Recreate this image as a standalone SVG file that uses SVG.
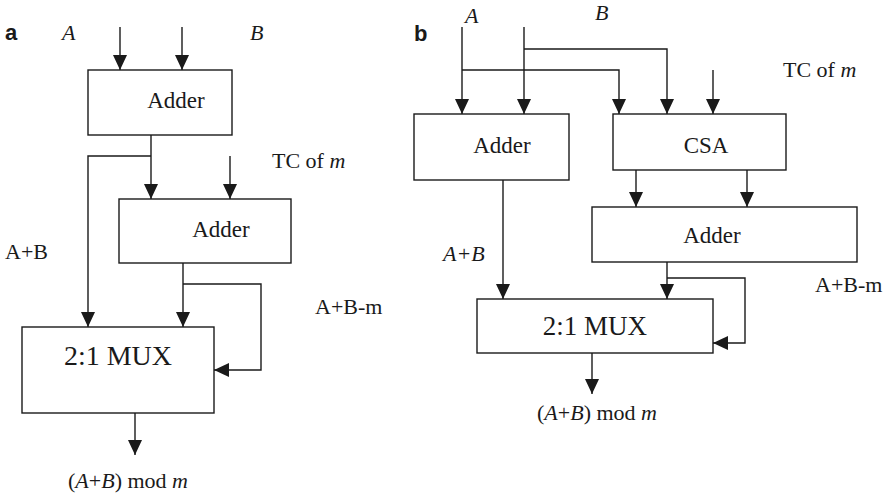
<svg xmlns="http://www.w3.org/2000/svg" width="892" height="496" viewBox="0 0 892 496">
<defs>
<marker id="ah" markerUnits="userSpaceOnUse" markerWidth="15" markerHeight="14" refX="15" refY="7" orient="auto">
<path d="M0,0 L15,7 L0,14 Z" fill="#1a1a1a"/>
</marker>
<style>
.box{fill:#fff;stroke:#1a1a1a;stroke-width:1.4}
.w{fill:none;stroke:#1a1a1a;stroke-width:1.4;marker-end:url(#ah)}
text{font-family:"Liberation Serif","Times New Roman",serif;font-size:22px;fill:#1a1a1a}
.lbl{text-anchor:middle;font-size:23px}
.mux{text-anchor:middle;font-size:28px}
.tag{font-family:"Liberation Sans",Arial,sans-serif;font-weight:bold;font-size:22px}
.i{font-style:italic}
</style>
</defs>
<rect width="892" height="496" fill="#fff"/>

<g id="connectors">
<path class="w" d="M120,27 V70"/>
<path class="w" d="M182,27 V70"/>
<path class="w" d="M151,135 V199"/>
<path class="w" d="M151,156 H88 V327"/>
<path class="w" d="M230,156 V199"/>
<path class="w" d="M183,263 V327"/>
<path class="w" d="M183,284 H261 V370 H214"/>
<path class="w" d="M135,413 V455"/>
<path class="w" d="M462,27 V114"/>
<path class="w" d="M524,27 V114"/>
<path class="w" d="M462,70 H619 V114"/>
<path class="w" d="M524,49 H667 V114"/>
<path class="w" d="M713,70 V114"/>
<path class="w" d="M636,170 V207"/>
<path class="w" d="M747,170 V207"/>
<path class="w" d="M503,180 V299"/>
<path class="w" d="M667,262 V299"/>
<path class="w" d="M667,278 H745 V343 H713"/>
<path class="w" d="M592,353 V394"/>
</g>

<g id="a-adder1">
<rect class="box" x="88" y="70" width="144" height="65"/>
<text class="lbl" x="176" y="108">Adder</text>
</g>
<g id="a-adder2">
<rect class="box" x="119" y="199" width="172" height="64"/>
<text class="lbl" x="221" y="237">Adder</text>
</g>
<g id="a-mux">
<rect class="box" x="22" y="327" width="192" height="86"/>
<text class="mux" x="118" y="365">2:1 MUX</text>
</g>
<g id="a-labels">
<text class="tag" x="5" y="40">a</text>
<text class="i" x="62" y="40">A</text>
<text class="i" x="250" y="40">B</text>
<text x="272" y="168">TC of <tspan class="i">m</tspan></text>
<text x="5" y="259">A+B</text>
<text x="315" y="314">A+B-m</text>
<text x="68" y="488">(<tspan class="i">A</tspan>+<tspan class="i">B</tspan>) mod <tspan class="i">m</tspan></text>
</g>

<g id="b-adder1">
<rect class="box" x="414" y="114" width="155" height="66"/>
<text class="lbl" x="502" y="153">Adder</text>
</g>
<g id="b-csa">
<rect class="box" x="613" y="114" width="173" height="56"/>
<text class="lbl" x="706" y="153">CSA</text>
</g>
<g id="b-adder2">
<rect class="box" x="592" y="207" width="265" height="55"/>
<text class="lbl" x="712" y="243">Adder</text>
</g>
<g id="b-mux">
<rect class="box" x="477" y="299" width="236" height="54"/>
<text class="mux" x="595" y="335" style="font-size:27px">2:1 MUX</text>
</g>
<g id="b-labels">
<text class="tag" x="414" y="41">b</text>
<text class="i" x="465" y="23">A</text>
<text class="i" x="595" y="20">B</text>
<text x="783" y="77">TC of <tspan class="i">m</tspan></text>
<text class="i" x="443" y="261">A+B</text>
<text x="815" y="292">A+B-m</text>
<text x="537" y="420">(<tspan class="i">A</tspan>+<tspan class="i">B</tspan>) mod <tspan class="i">m</tspan></text>
</g>
</svg>
